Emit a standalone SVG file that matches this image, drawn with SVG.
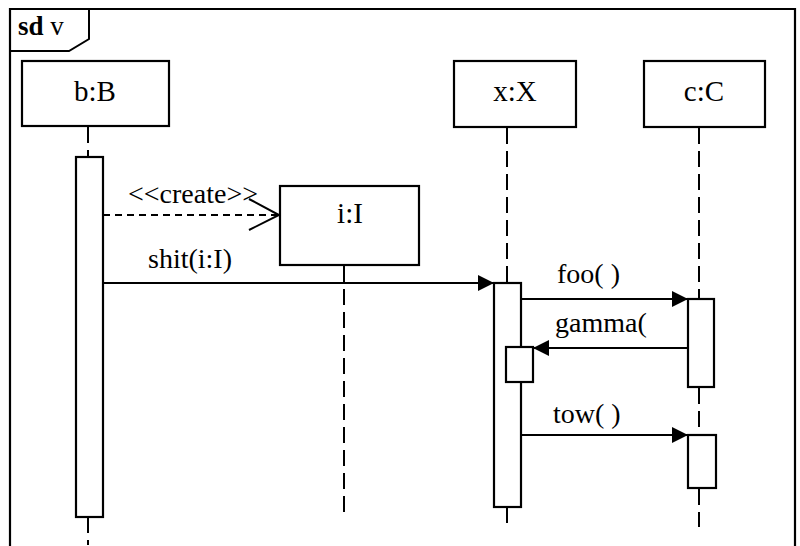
<svg xmlns="http://www.w3.org/2000/svg" width="800" height="546" viewBox="0 0 800 546">
<style>
text{font-family:'Liberation Serif','DejaVu Serif','Times New Roman',serif;fill:#000}
.box{fill:#fff;stroke:#000;stroke-width:2.2}
.act{fill:#fff;stroke:#000;stroke-width:2.2}
.life{stroke:#000;stroke-width:2;stroke-dasharray:16 7;fill:none}
.msg{stroke:#000;stroke-width:2;fill:none}
.lbl{font-size:29px;text-anchor:middle}
.ml{font-size:28px}
</style>
<defs>
<marker id="filled" markerWidth="16" markerHeight="16" refX="16" refY="8" orient="auto" markerUnits="userSpaceOnUse">
<path d="M0,0 L16,8 L0,16 Z" fill="#000"/>
</marker>
</defs>
<rect width="800" height="546" fill="#fff"/>
<g id="frame">
<path d="M10,548 L10,9 L795,9 L795,548" fill="none" stroke="#000" stroke-width="2.2"/>
<path d="M10,51 L69,51 L89,39 L89,9" fill="none" stroke="#000" stroke-width="2"/>
<text x="18" y="35" style="font-size:27px"><tspan font-weight="bold">sd</tspan> v</text>
</g>
<g id="lifelines">
<line class="life" x1="88" y1="127" x2="88" y2="157"/>
<line class="life" x1="88" y1="517" x2="88" y2="545"/>
<line class="life" x1="344" y1="266" x2="344" y2="518"/>
<line class="life" x1="507" y1="128" x2="507" y2="283"/>
<line class="life" x1="507" y1="507" x2="507" y2="527"/>
<line class="life" x1="699" y1="128" x2="699" y2="299"/>
<line class="life" x1="699" y1="388" x2="699" y2="435"/>
<line class="life" x1="699" y1="489" x2="699" y2="527"/>
</g>
<g id="node-b">
<rect class="box" x="22" y="61" width="147" height="65"/>
<text class="lbl" x="95" y="101">b:B</text>
<rect class="act" x="76" y="157" width="27" height="360"/>
</g>
<g id="node-i">
<rect class="box" x="280" y="186" width="139" height="79"/>
<text class="lbl" x="350" y="223">i:I</text>
</g>
<g id="node-x">
<rect class="box" x="454" y="61" width="122" height="66"/>
<text class="lbl" x="515" y="101">x:X</text>
<rect class="act" x="494" y="283" width="27" height="224"/>
<rect class="act" x="506" y="347" width="27" height="35"/>
</g>
<g id="node-c">
<rect class="box" x="644" y="61" width="121" height="66"/>
<text class="lbl" x="704" y="101">c:C</text>
<rect class="act" x="688" y="299" width="26" height="88"/>
<rect class="act" x="688" y="435" width="28" height="53"/>
</g>
<g id="connectors">
<line class="msg" x1="103" y1="215" x2="278" y2="215" stroke-dasharray="7 5"/>
<path class="msg" d="M249,199 L279,215 L249,230" stroke-width="2.2"/>
<text class="ml" x="128" y="203">&lt;&lt;create&gt;&gt;</text>
<line class="msg" x1="103" y1="283" x2="494" y2="283" marker-end="url(#filled)"/>
<text class="ml" x="148" y="268">shit(i:I)</text>
<line class="msg" x1="521" y1="299" x2="688" y2="299" marker-end="url(#filled)"/>
<text class="ml" x="557" y="283">foo( )</text>
<line class="msg" x1="688" y1="348" x2="533" y2="348" marker-end="url(#filled)"/>
<text class="ml" x="555" y="332">gamma(</text>
<line class="msg" x1="521" y1="435" x2="688" y2="435" marker-end="url(#filled)"/>
<text class="ml" x="553" y="423">tow( )</text>
</g>
</svg>
